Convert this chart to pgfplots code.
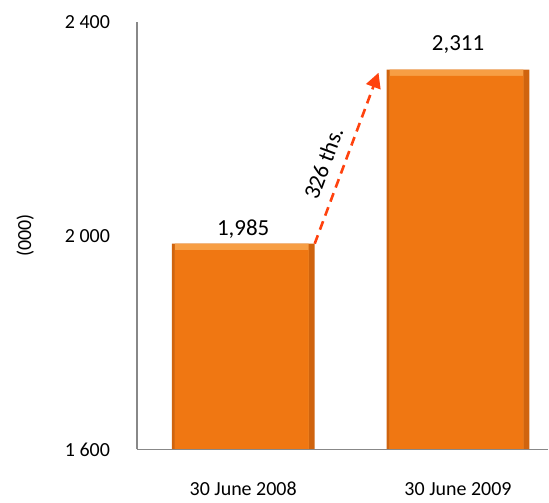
\documentclass[border=0pt]{standalone}
\usepackage{pgfplots}
\usepackage{pgfplotstable}
\pgfplotsset{compat=1.18}
\usepackage{fontspec}
\setmainfont{Carlito}
\usetikzlibrary{arrows.meta}

\definecolor{barorange}{RGB}{240,119,18}
\definecolor{barlight}{RGB}{247,158,68}
\definecolor{bardark}{RGB}{208,100,14}
\definecolor{arrowred}{RGB}{255,66,14}
\definecolor{axisgrey}{RGB}{136,136,136}

% value in thousands, and the lift of its label above the bar (pt)
\pgfplotstableread{
x  value  lift
0  1985   -2
1  2311   9
}\headcount

\begin{document}
\fontsize{20}{24}\selectfont
\begin{tikzpicture}
\begin{axis}[
  scale only axis,
  width=412pt, height=428pt,
  xmin=-0.495, xmax=1.42,
  ymin=1600, ymax=2400,
  axis x line=bottom, axis y line=left,
  axis line style={axisgrey, line width=1.5pt, -},
  major tick length=0pt,
  xtick=data,
  xticklabels={30 June 2008, 30 June 2009},
  ytick={1600,2000,2400},
  yticklabels={1 600, 2 000, 2 400},
  /pgf/number format/assume math mode=true,
  tick label style={font=\fontsize{20}{24}\selectfont, black},
  xticklabel style={yshift=-26pt},
  yticklabel style={xshift=-20pt},
  ylabel={(000)},
  ylabel style={font=\fontsize{20}{24}\selectfont,
    at={(axis description cs:-0.271,0.5)}, anchor=center},
  axis on top,
]
% dark rim of each bar
\addplot[ybar, bar shift=0pt, bar width=143pt, fill=bardark, draw=none,
  visualization depends on={\thisrow{lift} \as \lift},
  nodes near coords={\pgfmathprintnumber[1000 sep={,}]{\pgfplotspointmeta}},
  nodes near coords style={font=\fontsize{23}{27}\selectfont, black, yshift=\lift pt},
  point meta=explicit]
  table[x=x, y=value, meta=value] {\headcount};
% light top edge
\addplot[ybar, bar shift=-1.5pt, bar width=134pt, fill=barlight, draw=none]
  table[x=x, y=value] {\headcount};
% bar face
\addplot[ybar, bar shift=-1.5pt, bar width=134pt, fill=barorange, draw=none]
  table[x=x, y expr=\thisrow{value}-12] {\headcount};
\draw[arrowred, line width=2.6pt, dash pattern=on 9pt off 6pt,
  -{Triangle[width=15pt,length=15pt]}]
  (axis cs:0.333,1985) -- (axis cs:0.63,2305)
  node[pos=0.43, sloped, above=4pt, black, font=\fontsize{23}{27}\selectfont] {326 ths.};
\end{axis}
\path[use as bounding box] (-137pt,-49pt) rectangle (412pt,450pt);
\end{tikzpicture}
\end{document}
